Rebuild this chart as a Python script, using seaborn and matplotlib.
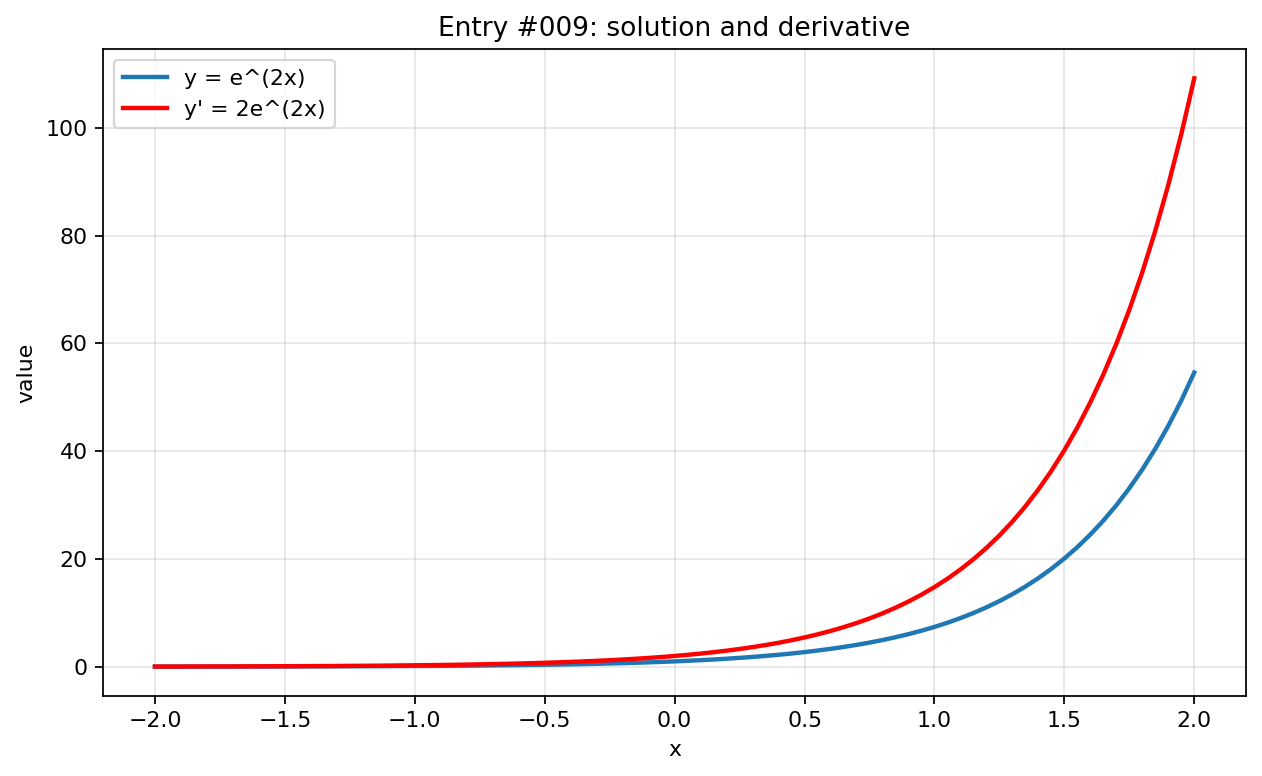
import numpy as np
import pandas as pd
import matplotlib
matplotlib.use("Agg")
import matplotlib.pyplot as plt
import seaborn as sns

# sample grid, -2 .. 2 in steps of 0.05
x_vals = np.round(np.linspace(-2.0, 2.0, 81), 2)

# y = e^(2x)
y_vals = [
    0.01832, 0.02024, 0.02237, 0.02472, 0.02732, 0.03020, 0.03337, 0.03688,
    0.04076, 0.04505, 0.04979, 0.05502, 0.06081, 0.06721, 0.07427, 0.08208,
    0.09072, 0.10026, 0.11080, 0.12246, 0.13534, 0.14957, 0.16530, 0.18268,
    0.20190, 0.22313, 0.24660, 0.27253, 0.30119, 0.33287, 0.36788, 0.40657,
    0.44933, 0.49659, 0.54881, 0.60653, 0.67032, 0.74082, 0.81873, 0.90484,
    1.0, 1.10517, 1.22140, 1.34986, 1.49182, 1.64872, 1.82212, 2.01375,
    2.22554, 2.45960, 2.71828, 3.00417, 3.32012, 3.66930, 4.05520, 4.48169,
    4.95303, 5.47395, 6.04965, 6.68589, 7.38906, 8.16617, 9.02501, 9.97418,
    11.0232, 12.1825, 13.4637, 14.8797, 16.4446, 18.1741, 20.0855, 22.1980,
    24.5325, 27.1126, 29.9641, 33.1155, 36.5982, 40.4473, 44.7012, 49.4024,
    54.5982,
]

# y' = 2e^(2x)
dy_vals = [
    0.03664, 0.04048, 0.04474, 0.04944, 0.05464, 0.06040, 0.06674, 0.07376,
    0.08152, 0.09010, 0.09958, 0.11004, 0.12162, 0.13442, 0.14854, 0.16416,
    0.18144, 0.20052, 0.22160, 0.24492, 0.27068, 0.29914, 0.33060, 0.36536,
    0.40380, 0.44626, 0.49320, 0.54506, 0.60238, 0.66574, 0.73576, 0.81314,
    0.89866, 0.99318, 1.09762, 1.21306, 1.34064, 1.48164, 1.63746, 1.80968,
    2.0, 2.21034, 2.44280, 2.69972, 2.98364, 3.29744, 3.64424, 4.02750,
    4.45108, 4.91920, 5.43656, 6.00834, 6.64024, 7.33860, 8.11040, 8.96338,
    9.90606, 10.9479, 12.0993, 13.3718, 14.7781, 16.3323, 18.0500, 19.9484,
    22.0464, 24.3650, 26.9274, 29.7594, 32.8892, 36.3482, 40.1710, 44.3960,
    49.0650, 54.2252, 59.9282, 66.2310, 73.1964, 80.8946, 89.4024, 98.8048,
    109.1964,
]

labels = ["y = e^(2x)", "y' = 2e^(2x)"]
colors = ["#1f77b4", "red"]

df = pd.concat([
    pd.DataFrame({"x": x_vals, "value": y_vals, "series": labels[0]}),
    pd.DataFrame({"x": x_vals, "value": dy_vals, "series": labels[1]}),
])

DPI = 158
fig, ax = plt.subplots(figsize=(1262 / DPI, 776 / DPI), dpi=DPI)
fig.subplots_adjust(left=0.0816, right=0.9875, top=0.937, bottom=0.103)

sns.lineplot(data=df, x="x", y="value", hue="series",
             palette=dict(zip(labels, colors)), linewidth=2, ax=ax,
             sort=False, estimator=None)

ax.set_title("Entry #009: solution and derivative")
ax.set_xlabel("x")
ax.set_ylabel("value")
ax.set_xticks(np.arange(-2.0, 2.01, 0.5))
ax.grid(True, alpha=0.3)
ax.legend(loc="upper left", title=None)

fig.savefig("out.png", dpi=DPI)
